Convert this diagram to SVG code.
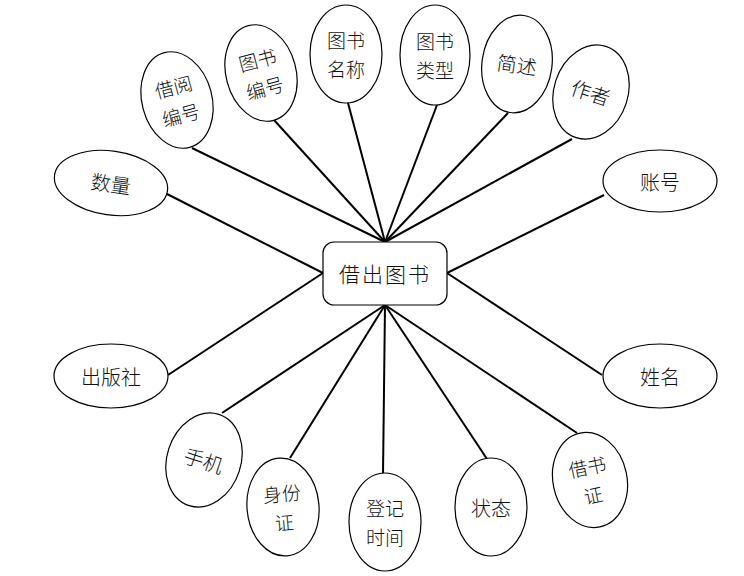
<svg xmlns="http://www.w3.org/2000/svg" width="744" height="576" viewBox="0 0 744 576">
<style>
.e{fill:#fff;stroke:#000;stroke-width:1.2}
.c{stroke:#000;stroke-width:2;fill:none}
text{font-family:"Noto Sans CJK SC","Noto Sans CJK JP",sans-serif;font-size:20px;font-weight:300;fill:#111;text-anchor:middle;dominant-baseline:central}
.t2{font-size:19px}
</style>
<rect width="744" height="576" fill="#fff"/>
<g id="connectors">
<line class="c" x1="192" y1="148" x2="385" y2="242"/>
<line class="c" x1="274" y1="120" x2="385" y2="242"/>
<line class="c" x1="348" y1="103" x2="385" y2="242"/>
<line class="c" x1="437" y1="105" x2="385" y2="242"/>
<line class="c" x1="508" y1="113" x2="385" y2="242"/>
<line class="c" x1="572" y1="139" x2="385" y2="242"/>
<line class="c" x1="604" y1="195" x2="447" y2="273"/>
<line class="c" x1="167" y1="194" x2="323" y2="273"/>
<line class="c" x1="168" y1="375" x2="323" y2="273"/>
<line class="c" x1="602" y1="375" x2="447" y2="273"/>
<line class="c" x1="222" y1="413" x2="385" y2="305"/>
<line class="c" x1="290" y1="458" x2="385" y2="305"/>
<line class="c" x1="383" y1="474" x2="385" y2="305"/>
<line class="c" x1="487" y1="459" x2="385" y2="305"/>
<line class="c" x1="577" y1="433" x2="385" y2="305"/>
</g>
<g id="center">
<rect x="323" y="242" width="124" height="63" rx="11" fill="#fff" stroke="#000" stroke-width="1.2"/>
<text x="385" y="273" style="font-size:21px;letter-spacing:2px">借出图书</text>
</g>
<g id="n-jieyuebianhao" transform="translate(177,100) rotate(-15)">
<ellipse class="e" rx="35" ry="49"/>
<text class="t2" y="-14.5">借阅</text><text class="t2" y="14.5">编号</text>
</g>
<g id="n-tushubianhao" transform="translate(261,73) rotate(-15)">
<ellipse class="e" rx="35" ry="49"/>
<text class="t2" y="-14.5">图书</text><text class="t2" y="14.5">编号</text>
</g>
<g id="n-tushumingcheng" transform="translate(346,54)">
<ellipse class="e" rx="36" ry="49"/>
<text class="t2" y="-14.5">图书</text><text class="t2" y="14.5">名称</text>
</g>
<g id="n-tushuleixing" transform="translate(435,55)">
<ellipse class="e" rx="35" ry="50"/>
<text class="t2" y="-14.5">图书</text><text class="t2" y="14.5">类型</text>
</g>
<g id="n-jianshu" transform="translate(517,64) rotate(8)">
<ellipse class="e" rx="35" ry="49"/>
<text>简述</text>
</g>
<g id="n-zuozhe" transform="translate(591,92) rotate(18)">
<ellipse class="e" rx="37" ry="48"/>
<text>作者</text>
</g>
<g id="n-zhanghao" transform="translate(660,181)">
<ellipse class="e" rx="57" ry="31"/>
<text>账号</text>
</g>
<g id="n-shuliang" transform="translate(111,183) rotate(8)">
<ellipse class="e" rx="57" ry="32"/>
<text>数量</text>
</g>
<g id="n-chubanshe" transform="translate(111,376)">
<ellipse class="e" rx="57" ry="32"/>
<text>出版社</text>
</g>
<g id="n-xingming" transform="translate(660,376)">
<ellipse class="e" rx="57" ry="32"/>
<text>姓名</text>
</g>
<g id="n-shouji" transform="translate(204,460) rotate(18)">
<ellipse class="e" rx="37" ry="48"/>
<text>手机</text>
</g>
<g id="n-shenfenzheng" transform="translate(283,507) rotate(-5)">
<ellipse class="e" rx="36" ry="49"/>
<text class="t2" y="-14.5">身份</text><text class="t2" y="14.5">证</text>
</g>
<g id="n-dengjishijian" transform="translate(385,522)">
<ellipse class="e" rx="36" ry="49"/>
<text class="t2" y="-14.5">登记</text><text class="t2" y="14.5">时间</text>
</g>
<g id="n-zhuangtai" transform="translate(491,507)">
<ellipse class="e" rx="36" ry="49"/>
<text>状态</text>
</g>
<g id="n-jieshuzheng" transform="translate(590,480) rotate(-12)">
<ellipse class="e" rx="37" ry="48"/>
<text class="t2" y="-14.5">借书</text><text class="t2" y="14.5">证</text>
</g>
</svg>
